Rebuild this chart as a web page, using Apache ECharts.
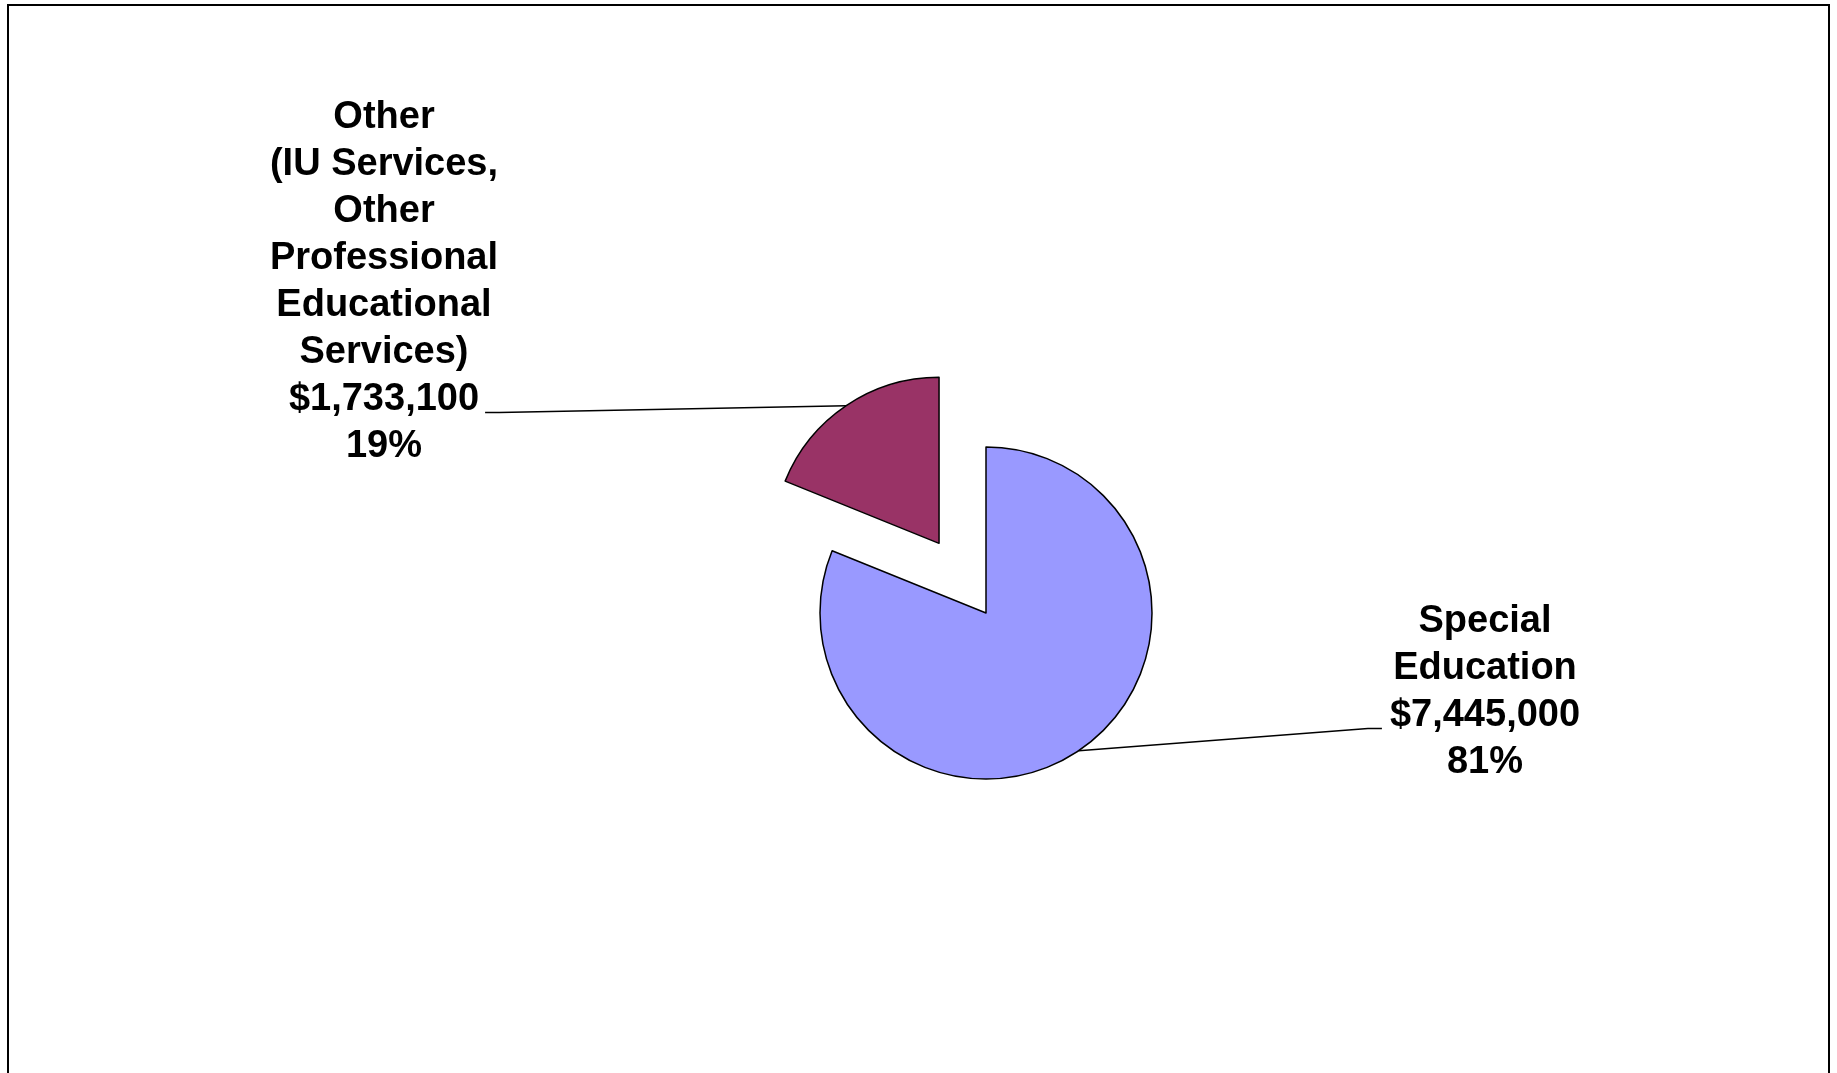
<!DOCTYPE html>
<html>
<head>
<meta charset="utf-8">
<title>Expenditures</title>
<script src="https://cdn.jsdelivr.net/npm/echarts@6/dist/echarts.min.js"></script>
<style>
    html, body { margin: 0; padding: 0; background: #fff; }
    #main { width: 1837px; height: 1073px; }
</style>
</head>
<body>
<div id="main"></div>
<script>
    // data
    var categories = ['Special\nEducation', 'Other\n(IU Services,\nOther\nProfessional\nEducational\nServices)'];
    var amounts = [7445000, 1733100];
    var colors = ['#9999FF', '#993366'];
    var exploded = [false, true];

    // layout only
    var pieCenter = [986, 613];
    var pieRadius = 166;
    var explodeBy = 84;
    var labelSpots = [[1485, 692], [384, 282]];   // label centres
    var FONT_SIZE = 38, LINE_H = 47;
    var FONT_FAMILY = 'Liberation Sans, Arial, sans-serif';

    var total = amounts.reduce(function (a, b) { return a + b; }, 0);

    function money(v) {
        return '$' + v.toString().replace(/\B(?=(\d{3})+(?!\d))/g, ',');
    }
    function pct(v) {
        return Math.round(v / total * 100) + '%';
    }

    // mid angle (degrees, maths convention) of every slice, clockwise from 12 o'clock
    var midAngles = [];
    var acc = 90;
    amounts.forEach(function (v) {
        var span = v / total * 360;
        midAngles.push(acc - span / 2);
        acc -= span;
    });

    function centerOf(i) {
        if (!exploded[i]) return pieCenter.slice();
        var a = midAngles[i] * Math.PI / 180;
        return [pieCenter[0] + explodeBy * Math.cos(a), pieCenter[1] - explodeBy * Math.sin(a)];
    }

    var ctx = document.createElement('canvas').getContext('2d');
    ctx.font = 'bold ' + FONT_SIZE + 'px ' + FONT_FAMILY;
    function textW(s) { return ctx.measureText(s).width; }

    // leader line: mid point of the arc -> the money line of the label
    function leader(i) {
        var c = centerOf(i);
        var a = midAngles[i] * Math.PI / 180;
        var start = [c[0] + pieRadius * Math.cos(a), c[1] - pieRadius * Math.sin(a)];
        var nLines = categories[i].split('\n').length + 2;
        var moneyRow = nLines - 2; // zero based
        var y = labelSpots[i][1] + (moneyRow + 0.5 - nLines / 2) * LINE_H + 13;
        var half = textW(money(amounts[i])) / 2;
        var end, bend;
        if (start[0] > labelSpots[i][0]) {
            end = [labelSpots[i][0] + half + 6, y];
            bend = [end[0] + 14, y];
        } else {
            end = [labelSpots[i][0] - half - 8, y];
            bend = [end[0] - 14, y];
        }
        return [start, bend, end];
    }

    function makeSeries(k) {
        return {
            type: 'pie',
            center: centerOf(k),
            radius: pieRadius,
            startAngle: 90,
            clockwise: true,
            emphasis: { disabled: true },
            silent: true,
            label: {
                show: true,
                color: '#000',
                fontFamily: FONT_FAMILY,
                fontWeight: 'bold',
                fontSize: FONT_SIZE,
                lineHeight: LINE_H,
                align: 'center',
                formatter: function (p) {
                    return categories[p.dataIndex] + '\n' + money(amounts[p.dataIndex]) + '\n' + pct(amounts[p.dataIndex]);
                }
            },
            labelLine: { show: true, lineStyle: { color: '#000', width: 1.5 } },
            labelLayout: function (params) {
                var p = labelSpots[params.dataIndex];
                return {
                    x: p[0],
                    y: p[1],
                    align: 'center',
                    verticalAlign: 'middle',
                    labelLinePoints: leader(params.dataIndex)
                };
            },
            data: amounts.map(function (v, i) {
                var mine = i === k;
                return {
                    name: categories[i],
                    value: v,
                    itemStyle: mine
                        ? { color: colors[i], borderColor: '#000', borderWidth: 1.5 }
                        : { color: 'rgba(0,0,0,0)', borderWidth: 0 },
                    label: { show: mine },
                    labelLine: { show: mine }
                };
            })
        };
    }

    var myChart = echarts.init(document.getElementById('main'));

    var option = {
        backgroundColor: '#fff',
        animation: false,
        graphic: [{
            type: 'rect',
            shape: { x: 8, y: 5, width: 1821, height: 1100 },
            style: { fill: 'none', stroke: '#000', lineWidth: 2 },
            silent: true
        }],
        series: amounts.map(function (v, k) { return makeSeries(k); })
    };

    myChart.setOption(option);
</script>
</body>
</html>
